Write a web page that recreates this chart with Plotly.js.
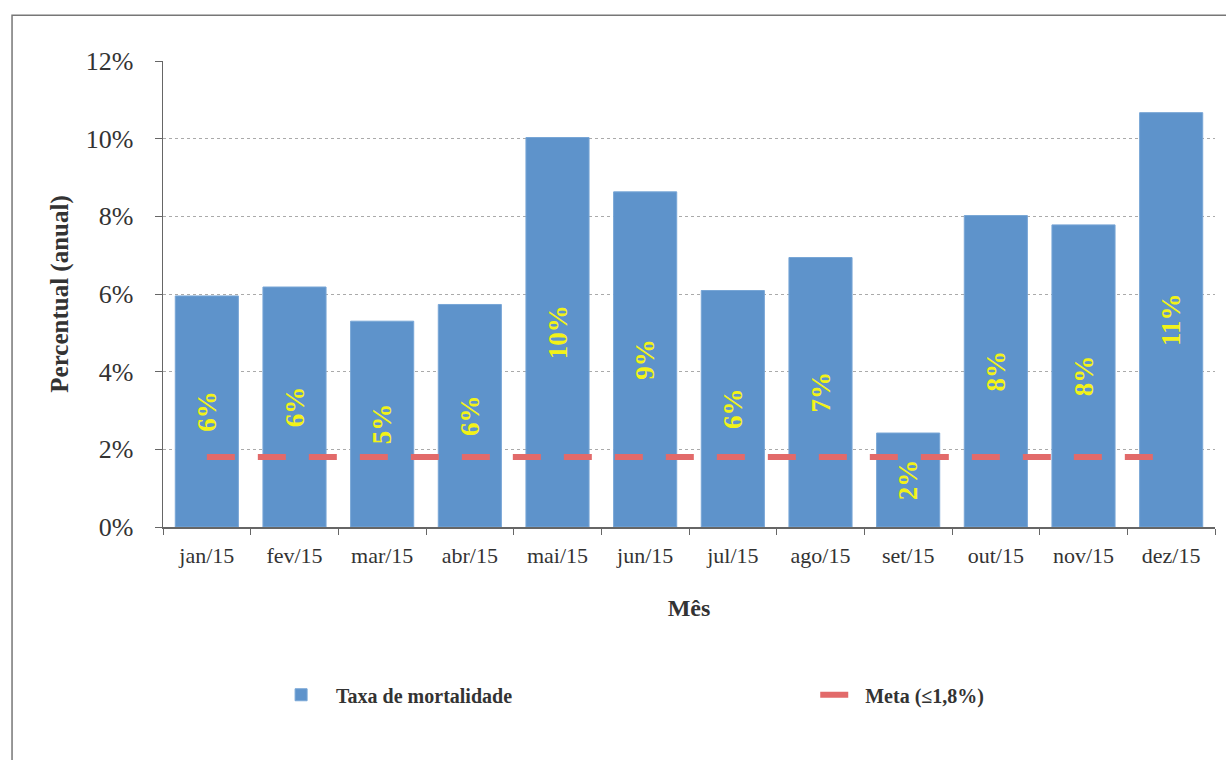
<!DOCTYPE html>
<html>
<head>
<meta charset="utf-8">
<script src="https://cdn.plot.ly/plotly-3.0.1.min.js"></script>
<style>
  html, body { margin: 0; padding: 0; background: #fff; }
  #chart { width: 1226px; height: 760px; }
</style>
</head>
<body>
<div id="chart"></div>
<script>
const months = ['jan/15','fev/15','mar/15','abr/15','mai/15','jun/15','jul/15','ago/15','set/15','out/15','nov/15','dez/15'];
const taxa = [5.95, 6.18, 5.30, 5.73, 10.03, 8.63, 6.09, 6.94, 2.42, 8.02, 7.78, 10.67];
const meta = [1.8, 1.8, 1.8, 1.8, 1.8, 1.8, 1.8, 1.8, 1.8, 1.8, 1.8, 1.8];
const yTicks = [0, 2, 4, 6, 8, 10, 12];
const yTickText = yTicks.map(v => v + '%');

const serif = 'Times New Roman, Liberation Serif, serif';

const traces = [
  {
    type: 'bar',
    name: 'Taxa de mortalidade',
    legend: 'legend',
    x: months,
    y: taxa,
    marker: { color: '#5E93CB', line: { color: '#78A6D6', width: 1 } },
    texttemplate: '%{y:.0f}%',
    textposition: 'inside',
    insidetextanchor: 'middle',
    textangle: -90,
    constraintext: 'none',
    textfont: { family: serif, size: 27, color: '#F2F218', weight: 'bold' },
    hoverinfo: 'x+y'
  },
  {
    type: 'scatter',
    mode: 'lines',
    name: 'Meta (≤1,8%)',
    legend: 'legend2',
    x: months,
    y: meta,
    line: { color: '#E26A6A', width: 6, dash: '28px,23px' },
    hoverinfo: 'x+y'
  }
];

const legendFont = { family: serif, size: 20, color: '#333', weight: 'bold' };

const layout = {
  width: 1226,
  height: 760,
  margin: { l: 163, r: 11, t: 61, b: 233 },
  paper_bgcolor: '#ffffff',
  plot_bgcolor: '#ffffff',
  bargap: 0.28,
  font: { family: serif, color: '#333' },
  showlegend: true,
  legend: {
    orientation: 'h',
    x: 0.098,
    xanchor: 'left',
    y: -0.36,
    yanchor: 'middle',
    itemwidth: 60,
    font: legendFont,
    bgcolor: 'rgba(0,0,0,0)'
  },
  legend2: {
    orientation: 'h',
    x: 0.62,
    xanchor: 'left',
    y: -0.36,
    yanchor: 'middle',
    itemwidth: 40,
    font: legendFont,
    bgcolor: 'rgba(0,0,0,0)'
  },
  xaxis: {
    type: 'category',
    showline: true,
    linecolor: '#666',
    linewidth: 1.5,
    ticks: 'outside',
    tickson: 'boundaries',
    ticklen: 6,
    tickcolor: '#666',
    ticklabelstandoff: 8,
    showgrid: false,
    tickfont: { family: serif, size: 22, color: '#333' },
    title: { text: 'Mês', font: { family: serif, size: 24, color: '#333', weight: 'bold' }, standoff: 32 }
  },
  yaxis: {
    range: [0, 12],
    tickmode: 'array',
    tickvals: yTicks,
    ticktext: yTickText,
    showline: true,
    linecolor: '#666',
    linewidth: 1.5,
    ticks: 'outside',
    ticklen: 7,
    tickcolor: '#666',
    ticklabelstandoff: 16,
    showgrid: true,
    gridcolor: '#aaa',
    griddash: 'dot',
    gridwidth: 1,
    zeroline: false,
    tickfont: { family: serif, size: 26, color: '#333' },
    title: { text: 'Percentual (anual)', font: { family: serif, size: 25, color: '#333', weight: 'bold' }, standoff: 10 }
  },
  shapes: [
    {
      type: 'rect',
      xref: 'paper', yref: 'paper',
      x0: -0.1435, x1: 1.02,
      y0: -0.55, y1: 1.098,
      line: { color: '#777', width: 1.5 },
      fillcolor: 'rgba(0,0,0,0)',
      layer: 'below'
    }
  ]
};

Plotly.newPlot('chart', traces, layout, { displayModeBar: false, staticPlot: true });
</script>
</body>
</html>
